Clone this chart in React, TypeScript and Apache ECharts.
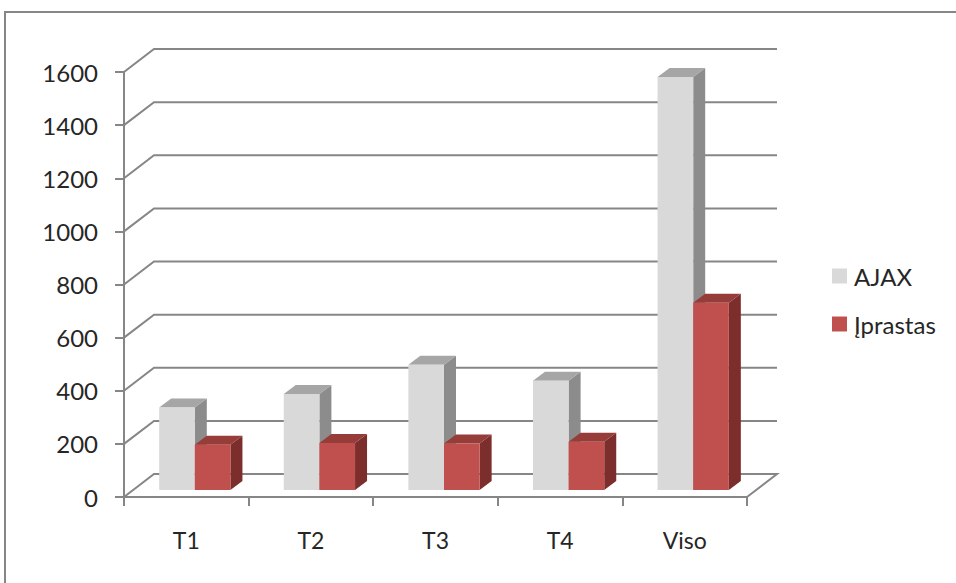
import React, { useEffect, useRef } from "react";
import * as echarts from "echarts";

const categories = ["T1", "T2", "T3", "T4", "Viso"];
const ajaxValues = [311, 361, 472, 411, 1555];
const iprastasValues = [170, 177, 175, 182, 705];
const wallTicks = [0, 200, 400, 600, 800, 1000, 1200, 1400, 1600];

const LINE = "#868686";
const TEXT = "#262626";
const FONT = "Lato";

// Box offsets of the pseudo-3D scene, in pixels.
const WALL_DX = 30;
const WALL_DY = -23;
const BAR_SHIFT_X = 8.5;
const BAR_SHIFT_Y = -7;
const BAR_DEPTH_X = 12;
const BAR_DEPTH_Y = -9;
const BAR_BAND_SHARE = 0.286;

type Shades = { front: string; top: string; side: string };
const GREY: Shades = { front: "#d9d9d9", top: "#a6a6a6", side: "#8c8c8c" };
const RED: Shades = { front: "#c0504d", top: "#963c39", side: "#7b2e2c" };

// Back wall: one bent line per tick, running from the value axis to the far right corner.
const renderWall = (params: any, api: any) => {
  const sys = params.coordSys;
  const y = api.coord([0, api.value(0)])[1];
  const points: number[][] = [
    [sys.x, y],
    [sys.x + WALL_DX, y + WALL_DY],
    [sys.x + sys.width + WALL_DX, y + WALL_DY],
  ];
  if (api.value(0) === 0) points.push([sys.x + sys.width, y]);
  return {
    type: "polyline",
    shape: { points },
    style: { stroke: LINE, lineWidth: 2, fill: "none" },
    silent: true,
  };
};

// Front, top and side faces of a bar; seriesSlot 0 sits left of the band centre, 1 right of it.
const renderBar = (seriesSlot: number, shades: Shades) => (_params: any, api: any) => {
  const index = api.value(0);
  const value = api.value(1);
  const centre = api.coord([index, 0])[0];
  const base = api.coord([index, 0])[1];
  const top = api.coord([index, value])[1] + BAR_SHIFT_Y;
  const width = api.size([1, 0])[0] * BAR_BAND_SHARE;
  const x0 = centre + BAR_SHIFT_X + (seriesSlot - 1) * width;
  const x1 = x0 + width;
  const y0 = base + BAR_SHIFT_Y;
  const dx = BAR_DEPTH_X;
  const dy = BAR_DEPTH_Y;
  const face = (points: number[][], fill: string) => ({
    type: "polygon",
    shape: { points },
    style: { fill },
  });
  return {
    type: "group",
    children: [
      face([[x1, top], [x1 + dx, top + dy], [x1 + dx, y0 + dy], [x1, y0]], shades.side),
      face([[x0, top], [x0 + dx, top + dy], [x1 + dx, top + dy], [x1, top]], shades.top),
      face([[x0, top], [x1, top], [x1, y0], [x0, y0]], shades.front),
    ],
  };
};

export default function App() {
  const ref = useRef<HTMLDivElement>(null);

  useEffect(() => {
    document.body.style.margin = "0";
    const chart = echarts.init(ref.current!, undefined, { renderer: "svg" });
    chart.setOption({
      animation: false,
      backgroundColor: "#ffffff",
      textStyle: { fontFamily: FONT },
      grid: { left: 124, right: 209, top: 72, bottom: 86, containLabel: false },
      legend: {
        orient: "vertical",
        left: 827,
        top: 259,
        itemWidth: 15,
        itemHeight: 15,
        itemGap: 24,
        icon: "rect",
        selectedMode: false,
        textStyle: { fontFamily: FONT, fontSize: 24, color: TEXT, padding: [0, 0, 0, 2] },
        data: ["AJAX", "Įprastas"],
      },
      xAxis: {
        type: "category",
        data: categories,
        axisLine: { lineStyle: { color: LINE, width: 2 } },
        axisTick: { show: true, alignWithLabel: false, length: 9, lineStyle: { color: LINE, width: 2 } },
        axisLabel: { color: TEXT, fontFamily: FONT, fontSize: 23, margin: 31 },
      },
      yAxis: {
        type: "value",
        min: 0,
        max: 1600,
        interval: 200,
        splitLine: { show: false },
        axisLine: { show: true, lineStyle: { color: LINE, width: 2 } },
        axisTick: { show: true, length: 9, lineStyle: { color: LINE, width: 2 } },
        axisLabel: {
          color: TEXT,
          fontFamily: FONT,
          fontSize: 24,
          margin: 26,
          formatter: (value: number) => String(value),
        },
      },
      series: [
        {
          type: "custom",
          name: "wall",
          silent: true,
          clip: false,
          z: 1,
          coordinateSystem: "cartesian2d",
          renderItem: renderWall,
          data: wallTicks.map((t) => [t]),
          encode: { y: 0 },
        },
        {
          type: "custom",
          name: "AJAX",
          z: 2,
          clip: false,
          itemStyle: { color: GREY.front },
          renderItem: renderBar(0, GREY),
          data: ajaxValues.map((v, i) => [i, v]),
          encode: { x: 0, y: 1 },
        },
        {
          type: "custom",
          name: "Įprastas",
          z: 3,
          clip: false,
          itemStyle: { color: RED.front },
          renderItem: renderBar(1, RED),
          data: iprastasValues.map((v, i) => [i, v]),
          encode: { x: 0, y: 1 },
        },
      ],
      graphic: [
        // Chart-area frame: only its top and left edges fall inside the page.
        {
          type: "polyline",
          silent: true,
          shape: { points: [[956, 12], [5, 12], [5, 583]] },
          style: { stroke: LINE, lineWidth: 2, fill: "none" },
        },
      ],
    });
    return () => chart.dispose();
  }, []);

  return <div ref={ref} style={{ width: 956, height: 583 }} />;
}
